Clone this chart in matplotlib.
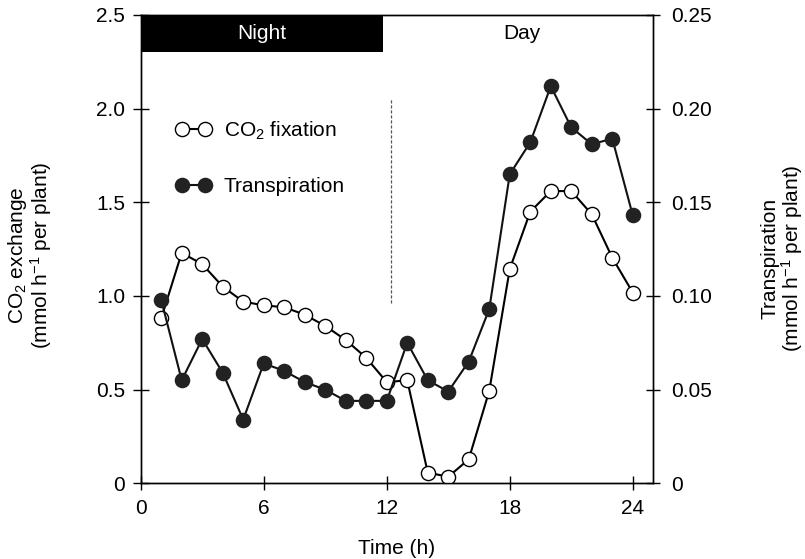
import matplotlib
matplotlib.use("Agg")
import matplotlib.pyplot as plt
from matplotlib.lines import Line2D
from matplotlib.patches import Rectangle

plt.rcParams["font.family"] = ["Liberation Sans", "DejaVu Sans"]
plt.rcParams["mathtext.fontset"] = "custom"
plt.rcParams["mathtext.rm"] = "Liberation Sans"
plt.rcParams["mathtext.it"] = "Liberation Sans:italic"
plt.rcParams["mathtext.bf"] = "Liberation Sans:bold"
plt.rcParams["mathtext.default"] = "regular"

# Hourly measurements over one day/night cycle
hours = list(range(1, 25))
co2_fixation = [0.88, 1.23, 1.17, 1.05, 0.97, 0.95, 0.94, 0.90, 0.84, 0.765,
                0.67, 0.54, 0.55, 0.057, 0.035, 0.128, 0.494, 1.144,
                1.45, 1.56, 1.56, 1.436, 1.204, 1.018]
transpiration = [0.098, 0.055, 0.077, 0.059, 0.034, 0.064, 0.060, 0.054,
                 0.050, 0.044, 0.044, 0.044, 0.075, 0.055, 0.049, 0.065,
                 0.093, 0.165, 0.182, 0.212, 0.190, 0.181, 0.184, 0.143]

x_ticks = [0, 6, 12, 18, 24]
co2_ticks = [0, 0.5, 1.0, 1.5, 2.0, 2.5]
co2_tick_labels = ["0", "0.5", "1.0", "1.5", "2.0", "2.5"]
tr_ticks = [0, 0.05, 0.10, 0.15, 0.20, 0.25]
tr_tick_labels = ["0", "0.05", "0.10", "0.15", "0.20", "0.25"]

night_end = 11.82     # end of the dark period (h)
lights_on = 12.2      # dashed marker for the light switch

FS = 15
W, H = 805, 559

fig = plt.figure(figsize=(W / 100, H / 100), dpi=100)
ax = fig.add_axes([140.7 / W, (H - 483.3) / H, 512.6 / W, 468.3 / H])
ax.set_xlim(0, 25)
ax.set_ylim(0, 2.5)

# CO2 fixation on the left axis
ax.plot(hours, co2_fixation, "-o", color="black", lw=1.5, ms=10.2,
        mfc="white", mec="black", mew=1.0, zorder=3)

# Night / Day band along the top
ax.add_patch(Rectangle((0, 2.30), night_end, 0.2, facecolor="black",
                       edgecolor="black", lw=0, zorder=5, clip_on=False))
ax.text(night_end / 2, 2.40, "Night", color="white", ha="center",
        va="center", fontsize=FS, zorder=6)
ax.text(18.6, 2.40, "Day", color="black", ha="center", va="center",
        fontsize=FS, zorder=6)

# Dashed line at the light switch
ax.plot([lights_on, lights_on], [0.963, 2.057], color="#555555", lw=0.9,
        dashes=(2.5, 1.5), zorder=2)

ax.set_xticks(x_ticks)
ax.set_xticklabels([str(t) for t in x_ticks])
ax.set_yticks(co2_ticks)
ax.set_yticklabels(co2_tick_labels)
ax.tick_params(axis="x", direction="inout", length=9.5, width=1.0,
               pad=6.5, labelsize=FS, colors="black")
ax.tick_params(axis="y", direction="inout", length=11, width=1.0,
               pad=5.8, labelsize=FS, colors="black")
for s in ax.spines.values():
    s.set_linewidth(1.0)

# Transpiration on the right axis
ax2 = ax.twinx()
ax2.set_ylim(0, 0.25)
ax2.plot(hours, transpiration, "-o", color="#111111", lw=1.5, ms=10.2,
         mfc="#222222", mec="#222222", mew=1.0, zorder=3)
ax2.set_yticks(tr_ticks)
ax2.set_yticklabels(tr_tick_labels)
ax2.tick_params(axis="y", direction="inout", length=9.5, width=1.0,
                pad=8, labelsize=FS, colors="black")
for s in ax2.spines.values():
    s.set_linewidth(1.0)

# Legend
handles = [
    Line2D([], [], color="black", lw=1.5, marker="o", ms=10.2, mfc="white",
           mec="black", mew=1.0),
    Line2D([], [], color="#111111", lw=1.5, marker="o", ms=10.2,
           mfc="#222222", mec="#222222", mew=1.0),
]
ax.legend(handles, ["CO$_2$ fixation", "Transpiration"], numpoints=2,
          handlelength=1.68, handletextpad=0.6, labelspacing=1.7,
          borderpad=0, borderaxespad=0, frameon=False, fontsize=FS,
          loc="center left", bbox_to_anchor=(0.0693, 0.6953))

# Axis titles
fig.text(30 / W, 1 - 255 / H, "CO$_2$ exchange\n(mmol h$^{-1}$ per plant)",
         rotation=90, ha="center", va="center", fontsize=FS,
         multialignment="center", linespacing=1.0)
fig.text(783 / W, 1 - 258 / H, "Transpiration\n(mmol h$^{-1}$ per plant)",
         rotation=90, ha="center", va="center", fontsize=FS,
         multialignment="center", linespacing=1.0)
fig.text(397 / W, 1 - 548 / H, "Time (h)", ha="center", va="center",
         fontsize=FS)

fig.savefig("out.png", dpi=100)
